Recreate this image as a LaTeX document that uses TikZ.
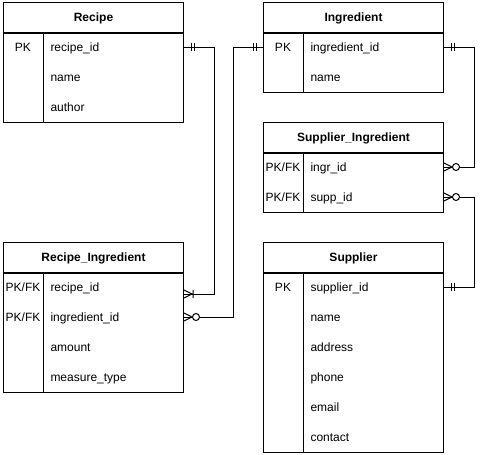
\documentclass[tikz,border=0pt]{standalone}
\usepackage{fontspec}
\setmainfont{Liberation Sans}
\begin{document}
\begin{tikzpicture}[x=1pt,y=-1pt,line width=1pt,font=\fontsize{12}{14}\selectfont,
    every node/.style={text height=8.5pt,text depth=0pt},
    hdr/.style={draw,minimum width=180pt,minimum height=30pt,anchor=north west,font=\fontsize{12}{14}\selectfont\bfseries},
    fld/.style={anchor=west,minimum height=30pt,text width=126pt,inner xsep=7pt,align=left},
    pics/oneone/.style={code={\draw (7,-4) -- (7,4) (10,-4) -- (10,4);}},
    pics/onemany/.style={code={\draw (0,-4) -- (8,0) -- (0,4) (9,-4) -- (9,4);}},
    pics/zeromany/.style={code={\draw (0,-4) -- (8,0) -- (0,4); \draw[fill=white] (12,0) circle (3.5);}}]
        \useasboundingbox (0,0) rectangle (485,455);
        % Recipe
        \node[hdr] (recipe) at (3,2) {Recipe};
        \draw (recipe.south west) rectangle (183,122) (43,32) -- (43,122);
        \node at (23,47) {PK};
        \foreach \f [count=\i] in {recipe\_id,name,author}
            \node[fld] (rec-\i) at (43,17+30*\i) {\f};
        % Recipe_Ingredient
        \node[hdr] (recing) at (3,242) {Recipe\_Ingredient};
        \draw (recing.south west) rectangle (183,392) (43,272) -- (43,392);
        \node at (23,287) {PK/FK};
        \node at (23,317) {PK/FK};
        \foreach \f [count=\i] in {recipe\_id,ingredient\_id,amount,measure\_type}
            \node[fld] (recing-\i) at (43,257+30*\i) {\f};
        % Ingredient
        \node[hdr] (ingredient) at (263,2) {Ingredient};
        \draw (ingredient.south west) rectangle (443,92) (303,32) -- (303,92);
        \node at (283,47) {PK};
        \foreach \f [count=\i] in {ingredient\_id,name}
            \node[fld] (ingr-\i) at (303,17+30*\i) {\f};
        % Supplier_Ingredient
        \node[hdr] (suping) at (263,122) {Supplier\_Ingredient};
        \draw (suping.south west) rectangle (443,212) (303,152) -- (303,212);
        \node at (283,167) {PK/FK};
        \node at (283,197) {PK/FK};
        \foreach \f [count=\i] in {ingr\_id,supp\_id}
            \node[fld] (suping-\i) at (303,137+30*\i) {\f};
        % Supplier
        \node[hdr] (supplier) at (263,242) {Supplier};
        \draw (supplier.south west) rectangle (443,452) (303,272) -- (303,452);
        \node at (283,287) {PK};
        \foreach \f [count=\i] in {supplier\_id,name,address,phone,email,contact}
            \node[fld] (sup-\i) at (303,257+30*\i) {\f};
        % relations
        \draw (rec-1.east) -- ++(30,0) |- ([yshift=-7pt]recing-1.east);
        \draw (ingredient.west |- ingr-1) -- ++(-30,0) |- (recing-2.east);
        \draw (ingr-1.east) -- ++(30,0) |- (suping-1.east);
        \draw (sup-1.east) -- ++(30,0) |- (suping-2.east);
        \pic at (rec-1.east) {oneone};
        \pic[xscale=-1] at (ingredient.west |- ingr-1) {oneone};
        \pic at (ingr-1.east) {oneone};
        \pic at (sup-1.east) {oneone};
        \pic at ([yshift=-7pt]recing-1.east) {onemany};
        \pic at (recing-2.east) {zeromany};
        \pic at (suping-1.east) {zeromany};
        \pic at (suping-2.east) {zeromany};
    \end{tikzpicture}
\end{document}
